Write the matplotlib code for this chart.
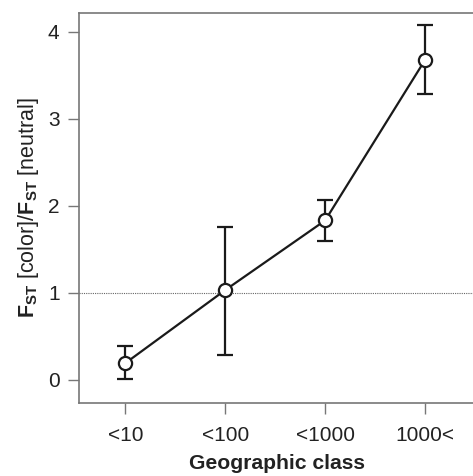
import numpy as np
import matplotlib.pyplot as plt

plt.rcParams['font.family'] = ['Liberation Sans', 'DejaVu Sans']
plt.rcParams['mathtext.fontset'] = 'custom'
plt.rcParams['mathtext.rm'] = 'Liberation Sans'
plt.rcParams['mathtext.bf'] = 'Liberation Sans:bold'

classes = ["<10", "<100", "<1000", "1000<"]
ratio = [0.19, 1.03, 1.83, 3.675]
err_low = [0.01, 0.28, 1.595, 3.285]
err_high = [0.385, 1.76, 2.065, 4.08]

x = np.arange(1, len(classes) + 1)
ratio = np.array(ratio)
yerr = [ratio - np.array(err_low), np.array(err_high) - ratio]

fig = plt.figure(figsize=(4.73, 4.76), dpi=100)
ax = fig.add_axes([79/473, 1 - 402.7/476, (475 - 79)/473, (402.7 - 12.7)/476])

spine_col = '#777777'
ax.axhline(1, color='#666666', lw=0.8, ls=(0, (1, 1)), zorder=1)
ax.errorbar(x, ratio, yerr=yerr, fmt='-', color='#1a1a1a', lw=1.6,
            elinewidth=1.6, capsize=5.5, capthick=1.6, zorder=2)
ax.plot(x, ratio, 'o', ms=9.5, mfc='white', mec='#1a1a1a', mew=1.6, zorder=3)

ax.set_xlim(0.537, 4.5)
ax.set_ylim(-0.264, 4.218)
ax.set_xticks(x)
ax.set_xticklabels(classes)
ax.set_yticks([0, 1, 2, 3, 4])

for s in ax.spines.values():
    s.set_color(spine_col)
    s.set_linewidth(1.2)
ax.tick_params(direction='out', length=8, width=1.0, color=spine_col,
               labelsize=15, labelcolor='#222222', pad=6)
ax.tick_params(axis='x', pad=9)

ax.set_xlabel("Geographic class", fontsize=15.2, fontweight='bold',
              color='#222222', labelpad=6)
ax.set_ylabel(r"$\mathbf{F_{ST}}$ [color]/$\mathbf{F_{ST}}$ [neutral]",
              fontsize=15.5, color='#222222', labelpad=5)

fig.savefig("out.png", dpi=100)
